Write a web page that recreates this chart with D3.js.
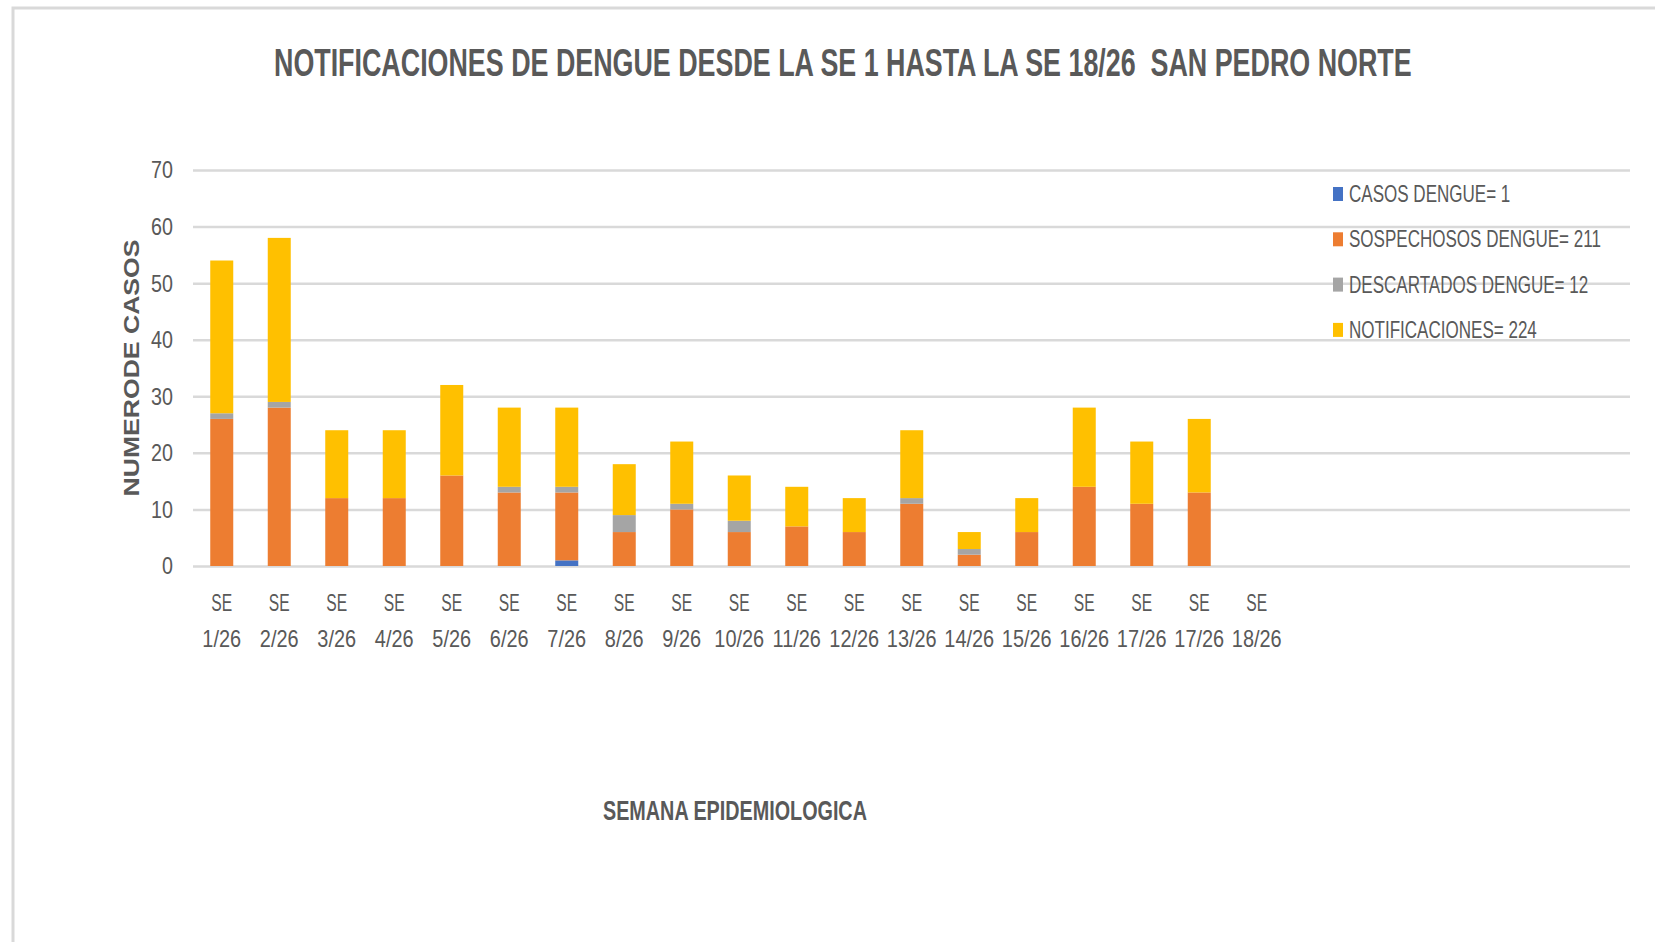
<!DOCTYPE html>
<html>
<head>
<meta charset="utf-8">
<script src="https://cdn.jsdelivr.net/npm/d3@7"></script>
<style>
  body { margin: 0; background: #fff; }
  text { fill: #595959; }
</style>
</head>
<body>
<div id="chart"></div>
<script>
// Weeks (SE 17/26 appears twice in the original)
var weeks = ["1/26", "2/26", "3/26", "4/26", "5/26", "6/26", "7/26", "8/26", "9/26", "10/26",
             "11/26", "12/26", "13/26", "14/26", "15/26", "16/26", "17/26", "17/26", "18/26"];
var casos          = [0, 0, 0, 0, 0, 0, 1, 0, 0, 0, 0, 0, 0, 0, 0, 0, 0, 0, 0];
var sospechosos    = [26, 28, 12, 12, 16, 13, 12, 6, 10, 6, 7, 6, 11, 2, 6, 14, 11, 13, 0];
var descartados    = [1, 1, 0, 0, 0, 1, 1, 3, 1, 2, 0, 0, 1, 1, 0, 0, 0, 0, 0];
var notificaciones = [27, 29, 12, 12, 16, 14, 14, 9, 11, 8, 7, 6, 12, 3, 6, 14, 11, 13, 0];
var yTicks = [0, 10, 20, 30, 40, 50, 60, 70];

var series = [
  {key: "casos", name: "CASOS DENGUE", values: casos, color: "#4472C4"},
  {key: "sospechosos", name: "SOSPECHOSOS DENGUE", values: sospechosos, color: "#ED7D31"},
  {key: "descartados", name: "DESCARTADOS DENGUE", values: descartados, color: "#A5A5A5"},
  {key: "notificaciones", name: "NOTIFICACIONES", values: notificaciones, color: "#FFC000"}
];

var table = weeks.map(function(w, i) {
  var row = {i: i, week: w};
  series.forEach(function(s) { row[s.key] = s.values[i]; });
  return row;
});

var W = 1655, H = 942;
var font = "'Liberation Sans', Arial, sans-serif";

// the original uses a narrow font: squeeze texts horizontally
function squeeze(k) {
  return function() {
    var len = this.getComputedTextLength();
    d3.select(this)
      .attr("textLength", len * k)
      .attr("lengthAdjust", "spacingAndGlyphs");
  };
}
// scale a text placed at (x, y) so it is k times as wide (or exactly w px wide)
function scaleText(sel, x, y, k, w) {
  sel.attr("x", 0).attr("y", 0);
  var len = sel.node().getComputedTextLength();
  var s = w ? w / len : k;
  sel.attr("transform", "translate(" + x + "," + y + ") scale(" + s + ",1)");
}

var svg = d3.select("#chart").append("svg")
  .attr("width", W)
  .attr("height", H)
  .style("display", "block");

// outer frame (only top / left visible in the picture)
svg.append("path")
  .attr("d", "M13," + H + "L13,8L" + W + ",8")
  .attr("fill", "none")
  .attr("stroke", "#d9d9d9")
  .attr("stroke-width", 3);

var x = d3.scaleBand()
  .domain(d3.range(weeks.length))
  .range([193, 1285.5])
  .paddingInner(0.6)
  .paddingOuter(0.3);

var y = d3.scaleLinear()
  .domain([0, 70])
  .range([566, 170]);

// gridlines
var grid = svg.append("g")
  .attr("transform", "translate(193,0)")
  .call(d3.axisRight(y).tickValues(yTicks).tickSize(1437).tickFormat(""));
grid.select(".domain").remove();
grid.selectAll("line").attr("stroke", "#d9d9d9").attr("stroke-width", 2.5);

// y labels
var yAxis = svg.append("g")
  .attr("transform", "translate(173,0)")
  .call(d3.axisLeft(y).tickValues(yTicks).tickSize(0).tickPadding(0));
yAxis.select(".domain").remove();
yAxis.selectAll("text")
  .attr("dy", "0.33em")
  .style("font-family", font)
  .style("font-size", "24px")
  .style("fill", "#595959")
  .each(squeeze(0.82));

// stacked bars
var stack = d3.stack().keys(series.map(function(s) { return s.key; }));
var stacked = stack(table);

svg.selectAll(".layer")
  .data(stacked)
  .enter()
  .append("g")
  .attr("class", "layer")
  .attr("fill", function(d, i) { return series[i].color; })
  .selectAll("rect")
  .data(function(d) { return d; })
  .enter()
  .append("rect")
  .attr("x", function(d) { return x(d.data.i); })
  .attr("width", x.bandwidth())
  .attr("y", function(d) { return y(d[1]); })
  .attr("height", function(d) { return y(d[0]) - y(d[1]); });

// x labels
var xAxis = svg.append("g")
  .attr("transform", "translate(0,566)")
  .call(d3.axisBottom(x).tickSize(0).tickFormat(""));
xAxis.select(".domain").remove();
xAxis.selectAll(".tick").each(function(d) {
  var g = d3.select(this);
  g.append("text")
    .attr("x", 0).attr("y", 45)
    .attr("text-anchor", "middle")
    .style("font-family", font)
    .style("font-size", "24px")
    .style("fill", "#595959")
    .text("SE")
    .each(squeeze(0.65));
  g.append("text")
    .attr("x", 0).attr("y", 81)
    .attr("text-anchor", "middle")
    .style("font-family", font)
    .style("font-size", "24px")
    .style("fill", "#595959")
    .text(weeks[d])
    .each(squeeze(0.83));
});

// title
var title = svg.append("text")
  .style("white-space", "pre")
  .style("font-family", font)
  .style("font-weight", "bold")
  .style("font-size", "38px")
  .text("NOTIFICACIONES DE DENGUE DESDE LA SE 1 HASTA LA SE 18/26  SAN PEDRO NORTE");
scaleText(title, 274, 76, null, 1138);

// axis titles
var xTitle = svg.append("text")
  .style("font-family", font)
  .style("font-weight", "bold")
  .style("font-size", "27px")
  .text("SEMANA EPIDEMIOLOGICA");
scaleText(xTitle, 603, 820, null, 264);

svg.append("text")
  .attr("transform", "translate(139,368) rotate(-90)")
  .attr("text-anchor", "middle")
  .attr("textLength", 257)
  .attr("lengthAdjust", "spacingAndGlyphs")
  .style("font-family", font)
  .style("font-weight", "bold")
  .style("font-size", "22px")
  .text("NUMERODE CASOS");

// legend
var legend = svg.selectAll(".legend")
  .data(series)
  .enter()
  .append("g")
  .attr("class", "legend")
  .attr("transform", function(d, i) { return "translate(1333," + (194 + i * 45.3) + ")"; });

legend.append("rect")
  .attr("x", 0)
  .attr("y", -7)
  .attr("width", 10)
  .attr("height", 14)
  .attr("fill", function(d) { return d.color; });

legend.append("text")
  .style("font-family", font)
  .style("font-size", "24px")
  .text(function(d) { return d.name + "= " + d3.sum(d.values); })
  .each(function() { scaleText(d3.select(this), 16, 8, 0.71); });
</script>
</body>
</html>
